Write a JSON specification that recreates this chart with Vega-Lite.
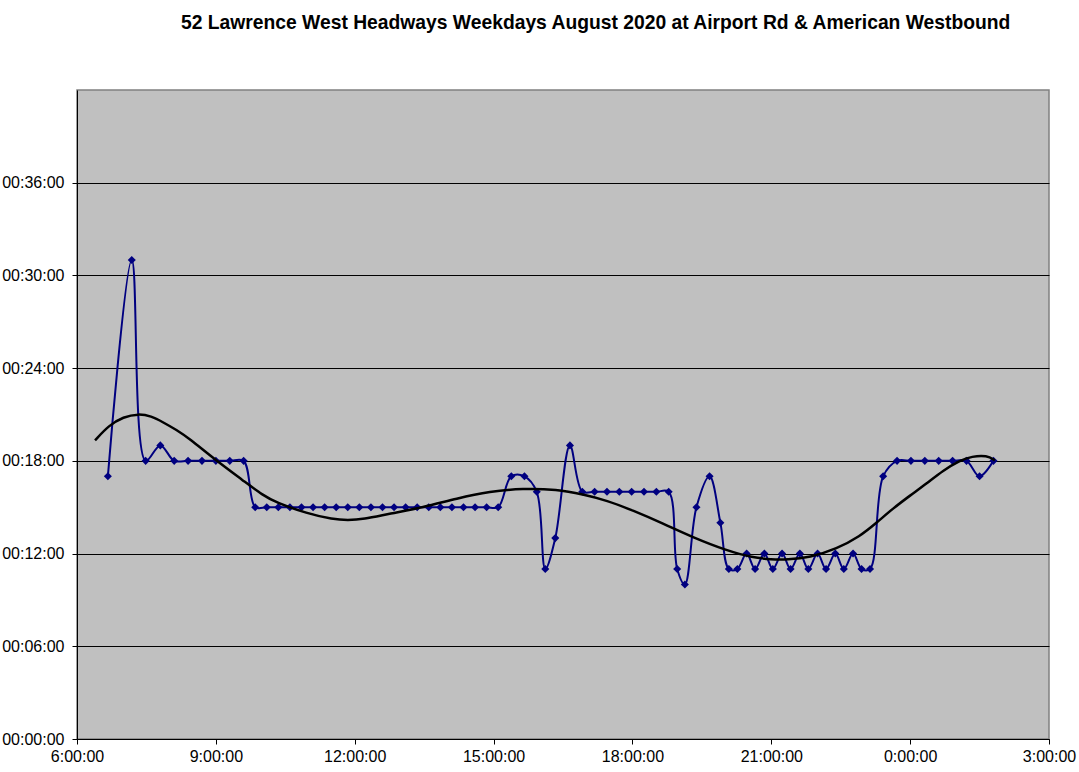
{
  "$schema": "https://vega.github.io/schema/vega-lite/v6.json",
  "autosize": "none",
  "width": 972,
  "height": 649,
  "padding": {"left": 77, "top": 90, "right": 30, "bottom": 33},
  "background": "white",
  "title": {
    "text": "52 Lawrence West Headways Weekdays August 2020 at Airport Rd & American Westbound",
    "font": "Liberation Sans",
    "fontSize": 19.3,
    "fontWeight": "bold",
    "color": "black",
    "anchor": "start",
    "frame": "group",
    "dx": 104,
    "offset": 57
  },
  "config": {
    "view": {"fill": "#c0c0c0", "stroke": "#808080", "strokeWidth": 1.5},
    "axis": {
      "labelFont": "Liberation Sans",
      "labelFontSize": 16,
      "labelColor": "black",
      "domainColor": "black",
      "tickColor": "black",
      "tickSize": 5,
      "title": null
    }
  },
  "datasets": {
    "trips": [
      {"t": 6.667, "h": 17}, {"t": 7.183, "h": 31}, {"t": 7.483, "h": 18}, {"t": 7.8, "h": 19},
      {"t": 8.1, "h": 18}, {"t": 8.4, "h": 18}, {"t": 8.7, "h": 18}, {"t": 9.0, "h": 18},
      {"t": 9.3, "h": 18}, {"t": 9.6, "h": 18},
      {"t": 9.85, "h": 15}, {"t": 10.1, "h": 15}, {"t": 10.35, "h": 15}, {"t": 10.6, "h": 15},
      {"t": 10.85, "h": 15}, {"t": 11.1, "h": 15}, {"t": 11.35, "h": 15}, {"t": 11.6, "h": 15},
      {"t": 11.85, "h": 15}, {"t": 12.1, "h": 15}, {"t": 12.35, "h": 15}, {"t": 12.6, "h": 15},
      {"t": 12.85, "h": 15}, {"t": 13.1, "h": 15}, {"t": 13.35, "h": 15}, {"t": 13.6, "h": 15},
      {"t": 13.85, "h": 15}, {"t": 14.1, "h": 15}, {"t": 14.35, "h": 15}, {"t": 14.6, "h": 15},
      {"t": 14.85, "h": 15}, {"t": 15.1, "h": 15},
      {"t": 15.383, "h": 17}, {"t": 15.667, "h": 17}, {"t": 15.933, "h": 16}, {"t": 16.117, "h": 11},
      {"t": 16.333, "h": 13}, {"t": 16.65, "h": 19}, {"t": 16.917, "h": 16}, {"t": 17.183, "h": 16},
      {"t": 17.45, "h": 16}, {"t": 17.717, "h": 16}, {"t": 17.983, "h": 16}, {"t": 18.25, "h": 16},
      {"t": 18.517, "h": 16}, {"t": 18.783, "h": 16}, {"t": 18.967, "h": 11}, {"t": 19.133, "h": 10},
      {"t": 19.383, "h": 15}, {"t": 19.667, "h": 17}, {"t": 19.9, "h": 14}, {"t": 20.083, "h": 11},
      {"t": 20.267, "h": 11}, {"t": 20.467, "h": 12}, {"t": 20.65, "h": 11}, {"t": 20.85, "h": 12},
      {"t": 21.033, "h": 11}, {"t": 21.233, "h": 12}, {"t": 21.417, "h": 11}, {"t": 21.617, "h": 12},
      {"t": 21.8, "h": 11}, {"t": 22.0, "h": 12}, {"t": 22.183, "h": 11}, {"t": 22.383, "h": 12},
      {"t": 22.567, "h": 11}, {"t": 22.767, "h": 12}, {"t": 22.95, "h": 11}, {"t": 23.133, "h": 11},
      {"t": 23.417, "h": 17}, {"t": 23.717, "h": 18}, {"t": 24.017, "h": 18}, {"t": 24.317, "h": 18},
      {"t": 24.617, "h": 18}, {"t": 24.917, "h": 18}, {"t": 25.217, "h": 18}, {"t": 25.5, "h": 17},
      {"t": 25.8, "h": 18}
    ],
    "trend": [
      {"t": 6.39, "h": 19.33}, {"t": 6.69, "h": 20.3}, {"t": 7.0, "h": 20.85}, {"t": 7.33, "h": 21.05},
      {"t": 7.6, "h": 20.9}, {"t": 7.86, "h": 20.5}, {"t": 8.15, "h": 20.0}, {"t": 8.42, "h": 19.46}, {"t": 9.0, "h": 18.03},
      {"t": 9.59, "h": 16.73}, {"t": 10.02, "h": 15.76}, {"t": 10.3, "h": 15.31}, {"t": 10.97, "h": 14.59},
      {"t": 11.53, "h": 14.21}, {"t": 11.85, "h": 14.15}, {"t": 12.18, "h": 14.21}, {"t": 12.76, "h": 14.59},
      {"t": 13.47, "h": 14.98}, {"t": 14.21, "h": 15.57}, {"t": 14.92, "h": 16.02}, {"t": 15.63, "h": 16.22},
      {"t": 16.37, "h": 16.15}, {"t": 16.93, "h": 15.83}, {"t": 17.45, "h": 15.44}, {"t": 18.01, "h": 14.79},
      {"t": 18.66, "h": 13.95}, {"t": 19.31, "h": 13.04}, {"t": 20.04, "h": 12.19}, {"t": 20.6, "h": 11.74},
      {"t": 21.0, "h": 11.62}, {"t": 21.34, "h": 11.61}, {"t": 21.83, "h": 11.74}, {"t": 22.42, "h": 12.32},
      {"t": 22.91, "h": 13.1}, {"t": 23.28, "h": 14.01}, {"t": 23.63, "h": 14.92}, {"t": 24.0, "h": 15.76},
      {"t": 24.36, "h": 16.54}, {"t": 24.71, "h": 17.38}, {"t": 25.08, "h": 18.03}, {"t": 25.33, "h": 18.29},
      {"t": 25.66, "h": 18.36}, {"t": 25.83, "h": 18.03}
    ]
  },
  "encoding": {
    "x": {
      "field": "t", "type": "quantitative",
      "scale": {"domain": [6, 27], "nice": false, "zero": false},
      "axis": {
        "values": [6, 9, 12, 15, 18, 21, 24, 27],
        "labelExpr": "(datum.value % 24) + ':00:00'",
        "grid": false,
        "labelPadding": 4,
        "labelFlush": false
      }
    },
    "y": {
      "field": "h", "type": "quantitative",
      "scale": {"domain": [0, 42], "nice": false},
      "axis": {
        "values": [0, 6, 12, 18, 24, 30, 36],
        "labelExpr": "'00:' + (datum.value < 10 ? '0' : '') + datum.value + ':00'",
        "grid": true,
        "gridColor": "black",
        "gridOpacity": 1,
        "gridWidth": 1,
        "labelPadding": 8,
        "labelFlush": false
      }
    }
  },
  "layer": [
    {
      "data": {"name": "trips"},
      "mark": {"type": "line", "interpolate": "catmull-rom", "color": "#000080", "strokeWidth": 2}
    },
    {
      "data": {"name": "trips"},
      "mark": {"type": "point", "shape": "diamond", "filled": true, "color": "#000080", "size": 65, "opacity": 1}
    },
    {
      "data": {"name": "trend"},
      "mark": {"type": "line", "interpolate": "basis", "color": "black", "strokeWidth": 2.5}
    }
  ]
}
